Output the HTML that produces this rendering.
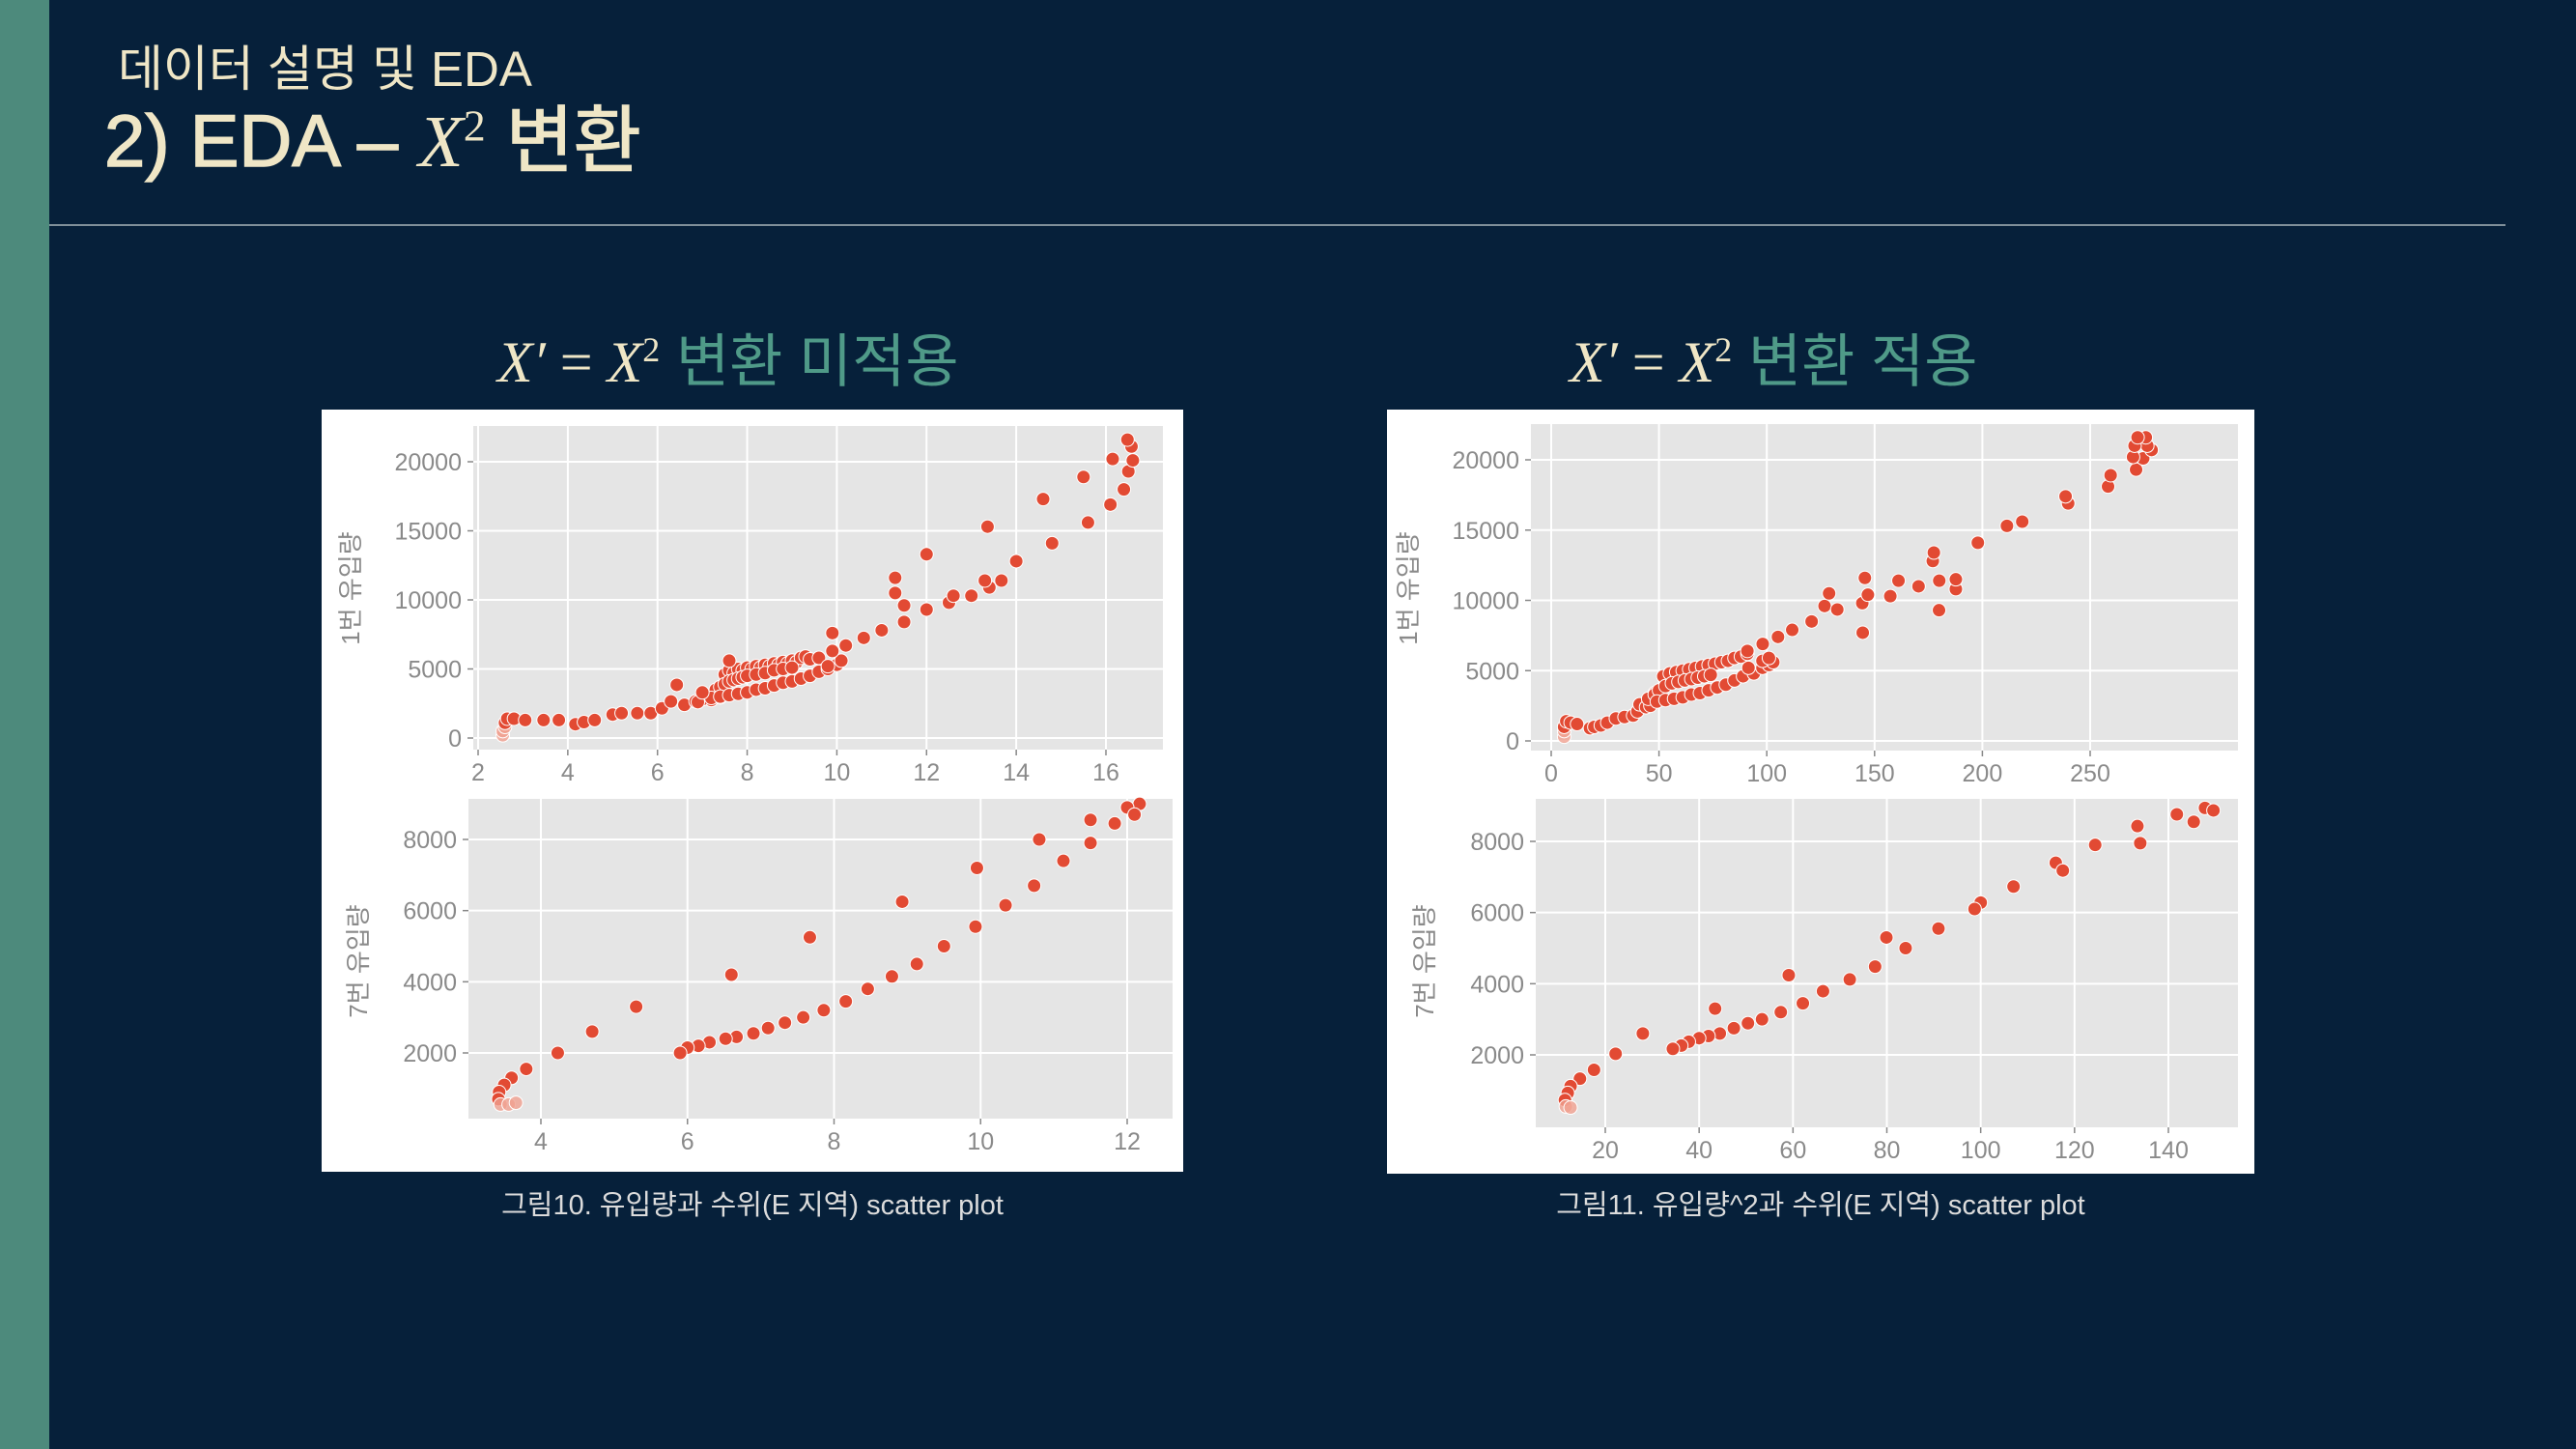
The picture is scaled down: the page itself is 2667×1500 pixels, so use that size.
<!DOCTYPE html>
<html><head><meta charset="utf-8">
<style>
html,body{margin:0;padding:0}
body{width:2667px;height:1500px;background:#06203a;position:relative;overflow:hidden;font-family:"Liberation Sans","Noto Sans CJK KR",sans-serif}
.abs{position:absolute}
</style></head><body>
<div class="abs" style="left:0;top:0;width:51px;height:1500px;background:#4d8a7c"></div>
<div class="abs" style="left:122px;top:30px;font-size:51px;color:#efe6c6;font-family:'Liberation Sans','Noto Sans CJK KR',sans-serif">데이터 설명 및 EDA</div>
<div class="abs" style="left:108px;top:84px;font-size:76px;color:#efe6c6;white-space:nowrap;-webkit-text-stroke:1.5px #efe6c6">2) EDA – <span style="font-family:'Liberation Serif',serif;font-style:italic;-webkit-text-stroke:0">X</span><sup style="font-family:'Liberation Serif',serif;font-size:46px;-webkit-text-stroke:0">2</sup> 변환</div>
<div class="abs" style="left:51px;top:232px;width:2543px;height:2px;background:#7f8f99"></div>

<div class="abs" style="left:515px;top:326px;font-size:60px;white-space:nowrap;color:#efe6c6"><span style="font-family:'Liberation Serif',serif;font-style:italic">X′</span><span style="font-family:'Liberation Serif',serif"> = </span><span style="font-family:'Liberation Serif',serif;font-style:italic">X</span><sup style="font-family:'Liberation Serif',serif;font-size:36px">2</sup> <span style="color:#4f9a88">변환 미적용</span></div>
<div class="abs" style="left:1625px;top:326px;font-size:60px;white-space:nowrap;color:#efe6c6"><span style="font-family:'Liberation Serif',serif;font-style:italic">X′</span><span style="font-family:'Liberation Serif',serif"> = </span><span style="font-family:'Liberation Serif',serif;font-style:italic">X</span><sup style="font-family:'Liberation Serif',serif;font-size:36px">2</sup> <span style="color:#4f9a88">변환 적용</span></div>

<div class="abs" style="left:333px;width:892px;text-align:center;top:1224px;font-size:29px;color:#dcdcdc">그림10. 유입량과 수위(E 지역) scatter plot</div>
<div class="abs" style="left:1436px;width:898px;text-align:center;top:1224px;font-size:29px;color:#dcdcdc">그림11. 유입량^2과 수위(E 지역) scatter plot</div>

<svg id="chart" class="abs" style="left:0;top:0" width="2667" height="1500">
<rect x="333" y="424" width="892" height="789" fill="#ffffff"/>
<rect x="1436" y="424" width="898" height="791" fill="#ffffff"/>
</svg>

<script>
// Top-left: 1번 유입량 vs 수위
const tlX=[2.55,2.55,2.6,2.6,2.65,2.8,3.05,3.46,3.8,4.17,4.36,4.6,5.0,5.2,5.55,5.85,6.1,6.3,6.43,6.6,6.85,7.2,7.4,
7.5,7.6,7.7,7.8,7.9,8.0,8.1,8.2,8.3,8.4,8.5,8.6,8.7,8.8,8.9,9.0,9.1,9.2,9.3,9.4,9.6,
7.3,7.4,7.5,7.6,7.7,7.8,7.9,8.0,8.2,8.4,8.6,8.8,9.0,
7.0,7.2,7.4,7.6,7.8,8.0,8.2,8.4,8.6,8.8,9.0,9.2,9.4,9.6,9.8,10.0,10.1,7.6,6.9,7.0,
9.8,9.9,9.9,10.2,10.6,11.0,11.5,11.5,11.3,11.3,12.0,12.0,12.5,12.6,13.0,13.67,13.4,13.3,13.36,14.0,14.8,14.6,15.6,15.5,16.1,16.15,16.4,16.5,16.6,16.57,16.48];
const tlY=[200,500,800,1100,1400,1400,1300,1300,1300,1000,1150,1300,1700,1800,1800,1800,2150,2650,3850,2400,2650,2750,2950,
4600,4900,4700,5000,4900,5100,5000,5200,5100,5300,5200,5400,5300,5500,5400,5600,5500,5800,5900,5700,5800,
3500,3700,3900,4100,4200,4300,4400,4500,4600,4700,4900,5000,5100,
2800,2900,3000,3100,3200,3300,3500,3600,3800,4000,4100,4300,4500,4800,5000,5300,5600,5600,2600,3300,
5200,6300,7600,6700,7250,7800,8400,9600,10500,11600,9300,13300,9800,10300,10300,11400,10900,11400,15300,12800,14100,17300,15600,18900,16900,20200,18000,19300,20100,21100,21600];
const tlXT=[2,4,6,8,10,12,14,16];
const tlYT=[0,5000,10000,15000,20000];
// Bottom-left: 7번 유입량 vs 수위
const blX=[12.17,12.0,12.1,11.83,11.5,11.5,10.8,11.13,10.73,9.95,10.34,9.93,9.5,9.13,8.93,8.79,8.46,8.16,7.86,7.67,7.58,7.33,7.1,6.9,6.67,6.52,6.6,6.3,6.15,6.0,5.9,5.3,4.7,4.23,3.8,3.6,3.5,3.43,3.42,3.45,3.56,3.66];
const blY=[9000,8900,8700,8450,8550,7900,8000,7400,6700,7200,6150,5550,5000,4500,6250,4150,3800,3450,3200,5250,3000,2850,2700,2550,2450,2400,4200,2300,2200,2150,2000,3300,2600,2000,1550,1300,1100,900,700,550,550,600];
const blXT=[4,6,8,10,12];
const blYT=[2000,4000,6000,8000];
// Top-right: 1번 유입량^2 vs 수위
const trX=[6,6,6,7,9,12,18,20,23,26,30,34,38,40,41,44,48,46,
52,55,58,61,64,67,70,73,76,79,82,85,88,91,
45,48,50,53,56,59,62,65,68,71,74,
49,53,57,61,65,69,73,77,81,85,89,94,98,101,103,
91,91.5,98,101,98.1,105.2,111.8,120.8,126.8,128.9,132.7,144.5,144.3,146.9,145.5,157.3,161.1,170.4,179.9,180,187.7,187.7,177,177.5,197.9,211.4,218.5,239.8,238.6,258.3,259.5,271.3,274.6,269.9,278.5,276.5,270.6,275.8,272];
const trY=[300,700,1000,1400,1300,1200,900,1000,1100,1300,1600,1700,1800,2100,2600,2400,3400,2500,
4600,4800,4900,5000,5100,5200,5300,5400,5500,5600,5700,5900,6000,6200,
3000,3300,3600,3900,4100,4200,4300,4400,4500,4600,4700,
2800,2900,3000,3100,3300,3400,3600,3800,4000,4300,4600,4800,5200,5400,5600,
6400,5200,5700,5900,6900,7400,7900,8500,9600,10500,9350,7700,9800,10400,11600,10300,11400,11000,9300,11400,10800,11500,12800,13400,14100,15300,15600,16900,17400,18100,18900,19300,20100,20200,20700,21000,21000,21600,21600];
const trXT=[0,50,100,150,200,250];
const trYT=[0,5000,10000,15000,20000];
// Bottom-right: 7번 유입량^2 vs 수위
const brX=[147.8,149.6,141.8,145.4,133.4,134,124.4,116,117.5,107,100,98.7,91,84,79.9,77.5,72.1,66.4,62.1,59.1,57.4,53.4,50.4,47.4,44.4,43.4,42,40,37.8,36.2,34.4,28,22.2,17.6,14.6,12.6,12,11.4,11.6,12.6];
const brY=[8940,8870,8760,8550,8430,7950,7900,7400,7180,6730,6280,6100,5550,5000,5300,4480,4120,3790,3450,4240,3200,3000,2890,2750,2600,3300,2530,2470,2370,2260,2170,2600,2030,1580,1330,1120,930,730,550,520];
const brXT=[20,40,60,80,100,120,140];
const brYT=[2000,4000,6000,8000];

const NS='http://www.w3.org/2000/svg';
const svg=document.getElementById('chart');
function mk(tag,attrs){const e=document.createElementNS(NS,tag);for(const k in attrs)e.setAttribute(k,attrs[k]);svg.appendChild(e);return e;}
function plot(p,xs,ys,xt,yt,ytitle,id){
  const sx=v=>p.x0p+(v-p.x0v)*(p.x1p-p.x0p)/(p.x1v-p.x0v);
  const sy=v=>p.y0p+(v-p.y0v)*(p.y1p-p.y0p)/(p.y1v-p.y0v);
  const bg=mk('rect',{x:p.L,y:p.T,width:p.R-p.L,height:p.B-p.T,fill:'#e5e5e5'});
  
  
  xt.forEach(v=>{
    const g=mk('line',{x1:sx(v),x2:sx(v),y1:p.T,y2:p.B,stroke:'#ffffff','stroke-width':2});
    
    
    mk('line',{x1:sx(v),x2:sx(v),y1:p.B,y2:p.B+6,stroke:'#888','stroke-width':1.5});
    const t=mk('text',{x:sx(v),y:p.B+32,'text-anchor':'middle','font-size':25,fill:'#8a8a8a','font-family':'Liberation Sans, sans-serif'});
    t.textContent=v;
    
    
  });
  yt.forEach(v=>{
    const g=mk('line',{x1:p.L,x2:p.R,y1:sy(v),y2:sy(v),stroke:'#ffffff','stroke-width':2});
    
    
    mk('line',{x1:p.L-6,x2:p.L,y1:sy(v),y2:sy(v),stroke:'#888','stroke-width':1.5});
    const t=mk('text',{x:p.L-12,y:sy(v)+9,'text-anchor':'end','font-size':25,fill:'#8a8a8a','font-family':'Liberation Sans, sans-serif'});
    t.textContent=v;
    
    
  });
  const yl=mk('text',{x:0,y:0,'text-anchor':'middle','font-size':26,fill:'#8a8a8a','font-family':'Liberation Sans, Noto Sans CJK KR, sans-serif',transform:'translate('+p.tx+','+p.ty+') rotate(-90)'});
  yl.textContent=ytitle;
  
  
  xs.forEach((v,i)=>{
    const faded=ys[i]<p.fade;
    const c=mk('circle',{cx:sx(v),cy:sy(ys[i]),r:7,fill:faded?'#f0a090':'#e24a33',stroke:'#ffffff','stroke-width':1,'fill-opacity':faded?0.8:1});
    
    
  });
}
plot({L:490,R:1204,T:441,B:776,x0v:2,x0p:495,x1v:16,x1p:1145,y0v:0,y0p:764,y1v:20000,y1p:478,tx:372,ty:609,fade:900},tlX,tlY,tlXT,tlYT,'1번 유입량','top-left');
plot({L:485,R:1214,T:827,B:1158,x0v:4,x0p:560,x1v:12,x1p:1167,y0v:2000,y0p:1090,y1v:8000,y1p:869,tx:380,ty:995,fade:700},blX,blY,blXT,blYT,'7번 유입량','bottom-left');
plot({L:1585,R:2317,T:439,B:777,x0v:0,x0p:1606,x1v:250,x1p:2164,y0v:0,y0p:767,y1v:20000,y1p:476,tx:1467,ty:609,fade:800},trX,trY,trXT,trYT,'1번 유입량','top-right');
plot({L:1590,R:2317,T:827,B:1167,x0v:20,x0p:1662,x1v:140,x1p:2245,y0v:2000,y0p:1092,y1v:8000,y1p:871,tx:1484,ty:995,fade:600},brX,brY,brXT,brYT,'7번 유입량','bottom-right');
</script>
</body></html>
